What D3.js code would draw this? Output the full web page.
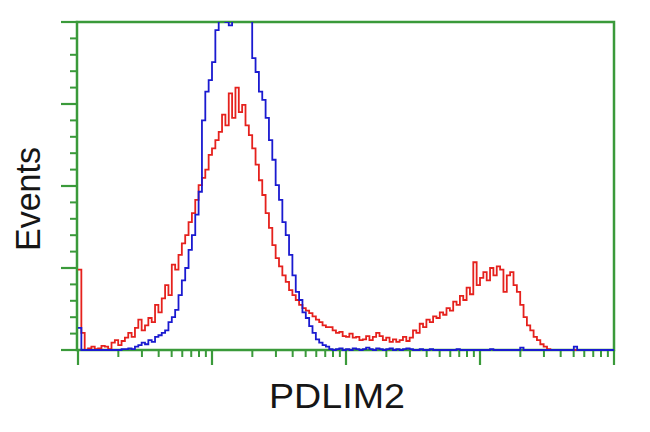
<!DOCTYPE html>
<html>
<head>
<meta charset="utf-8">
<script src="https://cdn.jsdelivr.net/npm/d3@7"></script>
<style>
  html, body { margin: 0; padding: 0; background: #fff; }
  svg { display: block; }
</style>
</head>
<body>
<svg id="chart" width="650" height="432"></svg>
<script>
// ---- data: histogram counts in 160 log-spaced bins (40 bins per decade, 10^0 .. 10^4)
const binsPerDecade = 40;
const redCounts = [
  98, 21, 0, 2, 4, 1, 2, 5, 4, 1,
  9, 12, 6, 11, 15, 21, 16, 27, 37, 24,
  30, 39, 34, 55, 46, 63, 79, 67, 104, 98,
  116, 130, 140, 156, 167, 183, 201, 210, 220, 238,
  246, 256, 266, 287, 274, 313, 283, 320, 290, 299,
  274, 262, 246, 226, 207, 189, 167, 149, 128, 112,
  102, 91, 83, 73, 67, 61, 55, 51, 48, 45,
  41, 37, 34, 30, 28, 28, 24, 21, 22, 17,
  16, 20, 15, 16, 12, 13, 17, 12, 16, 21,
  17, 12, 15, 10, 13, 10, 12, 16, 11, 15,
  24, 21, 32, 28, 37, 34, 41, 39, 46, 43,
  51, 48, 59, 55, 66, 61, 76, 68, 107, 79,
  88, 95, 85, 100, 91, 102, 98, 71, 91, 95,
  79, 71, 55, 40, 30, 24, 16, 12, 7, 4,
  1, 0, 0, 0, 0, 0, 0, 0, 0, 0,
  0, 0, 0, 0, 0, 0, 0, 0, 0, 0
];
const blueCounts = [
  27, 0, 0, 0, 0, 0, 0, 0, 0, 0,
  0, 0, 0, 1, 1, 2, 1, 4, 6, 9,
  7, 12, 10, 16, 18, 21, 24, 34, 40, 49,
  67, 85, 100, 122, 140, 165, 193, 280, 315, 329,
  351, 390, 402, 405, 400, 396, 415, 440, 470, 455,
  430, 410, 356, 339, 315, 305, 283, 256, 232, 201,
  183, 156, 140, 116, 91, 71, 61, 46, 39, 29,
  21, 13, 9, 6, 4, 1, 0, 1, 2, 0,
  1, 0, 2, 1, 0, 1, 3, 1, 0, 2,
  1, 0, 1, 2, 0, 1, 0, 1, 2, 1,
  0, 0, 1, 0, 0, 1, 0, 0, 0, 0,
  0, 0, 0, 1, 0, 0, 0, 0, 0, 0,
  0, 0, 0, 1, 0, 0, 0, 0, 0, 0,
  0, 0, 3, 0, 0, 0, 0, 0, 0, 0,
  0, 0, 0, 0, 0, 0, 0, 0, 4, 0,
  0, 0, 0, 0, 0, 0, 0, 0, 0, 0
];
const xMajorTicks = [1, 10, 100, 1000, 10000];
const yMajorTicks = [0, 100, 200, 300, 400];
const xLabel = "PDLIM2";
const yLabel = "Events";

// ---- layout
const green = "#3a9a3a";
const mLeft = 78, mRight = 614, mTop = 22, mBottom = 350;

const svg = d3.select("#chart");
const x = d3.scaleLog().domain([1, 10000]).range([mLeft, mRight]);
const y = d3.scaleLinear().domain([0, 400]).range([mBottom, mTop]);

const binEdges = d3.range(redCounts.length + 1).map(i => Math.pow(10, i / binsPerDecade));

// y ticks (left)
const yMinor = d3.range(0, 401, 20).filter(v => !yMajorTicks.includes(v));
svg.append("g").selectAll("line").data(yMinor).join("line")
  .attr("x1", mLeft - 8).attr("x2", mLeft)
  .attr("y1", d => y(d)).attr("y2", d => y(d))
  .attr("stroke", green).attr("stroke-width", 2);
svg.append("g").selectAll("line").data(yMajorTicks).join("line")
  .attr("x1", mLeft - 17).attr("x2", mLeft)
  .attr("y1", d => y(d)).attr("y2", d => y(d))
  .attr("stroke", green).attr("stroke-width", 2.2);

// x ticks (bottom)
const xMinor = [];
xMajorTicks.slice(0, -1).forEach(d => { for (let k = 2; k <= 9; k++) xMinor.push(d * k); });
svg.append("g").selectAll("line").data(xMinor).join("line")
  .attr("x1", d => x(d)).attr("x2", d => x(d))
  .attr("y1", mBottom).attr("y2", mBottom + 7)
  .attr("stroke", green).attr("stroke-width", 2);
svg.append("g").selectAll("line").data(xMajorTicks).join("line")
  .attr("x1", d => x(d)).attr("x2", d => x(d))
  .attr("y1", mBottom).attr("y2", mBottom + 15)
  .attr("stroke", green).attr("stroke-width", 2.2);

// frame
svg.append("rect")
  .attr("x", mLeft - 1).attr("y", mTop)
  .attr("width", mRight - mLeft + 1).attr("height", mBottom - mTop)
  .attr("fill", "none").attr("stroke", green).attr("stroke-width", 2.5);

// clip
svg.append("clipPath").attr("id", "plot")
  .append("rect").attr("x", mLeft - 3).attr("y", mTop).attr("width", mRight - mLeft + 4).attr("height", mBottom - mTop + 2);

const line = d3.line()
  .x(d => x(d[0])).y(d => y(d[1]))
  .curve(d3.curveStepAfter);
function pts(counts) {
  const p = counts.map((c, i) => [binEdges[i], c]);
  p.push([binEdges[counts.length], counts[counts.length - 1]]);
  return p;
}
const g = svg.append("g").attr("clip-path", "url(#plot)");
g.append("path").datum(pts(redCounts)).attr("d", line)
  .attr("fill", "none").attr("stroke", "#e5211d").attr("stroke-width", 1.8);
g.append("path").datum(pts(blueCounts)).attr("d", line)
  .attr("fill", "none").attr("stroke", "#1a1ad0").attr("stroke-width", 1.8);

// labels
svg.append("text").text(xLabel)
  .attr("x", 337).attr("y", 408)
  .attr("text-anchor", "middle")
  .attr("textLength", 136).attr("lengthAdjust", "spacingAndGlyphs")
  .attr("font-family", "Liberation Sans, Arial, sans-serif")
  .attr("font-size", 35).attr("fill", "#161616");
svg.append("text").text(yLabel)
  .attr("transform", "translate(40,199) rotate(-90)")
  .attr("text-anchor", "middle")
  .attr("textLength", 104).attr("lengthAdjust", "spacingAndGlyphs")
  .attr("font-family", "Liberation Sans, Arial, sans-serif")
  .attr("font-size", 35).attr("fill", "#161616");
</script>
</body>
</html>
